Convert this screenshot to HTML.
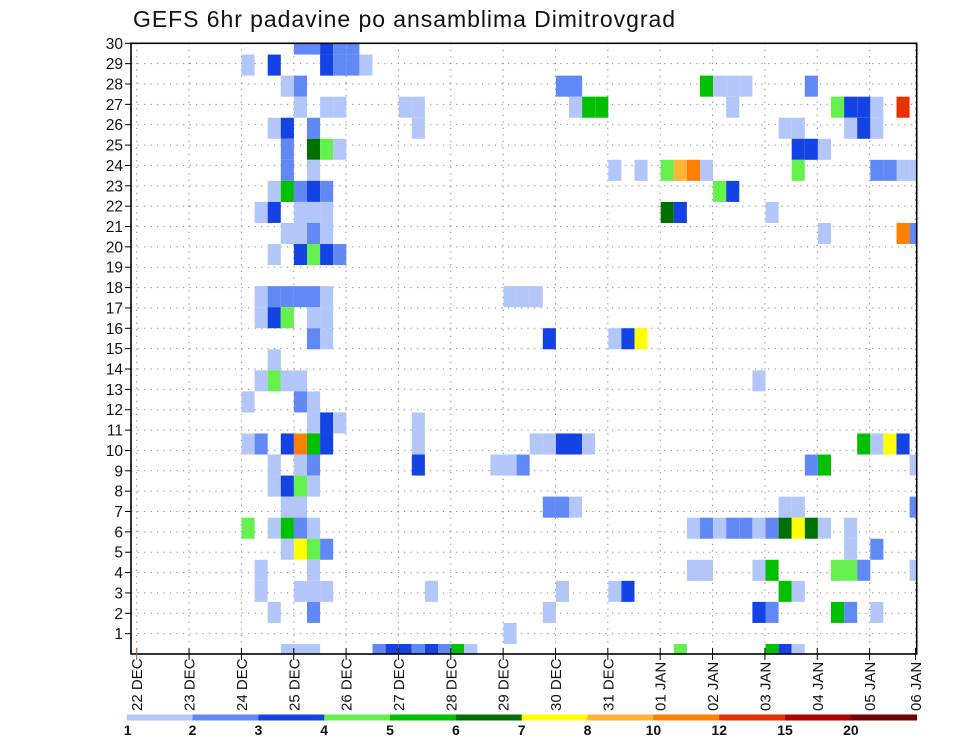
<!DOCTYPE html>
<html><head><meta charset="utf-8"><title>GEFS 6hr padavine po ansamblima Dimitrovgrad</title>
<style>
html,body{margin:0;padding:0;background:#fff;}
svg{display:block;font-family:"Liberation Sans",sans-serif;}
</style></head>
<body>
<svg id="chart" width="960" height="742" viewBox="0 0 960 742" xmlns="http://www.w3.org/2000/svg">
<defs><clipPath id="plotclip"><rect x="131" y="43.3" width="785.7" height="610.7"/></clipPath></defs>
<text x="133" y="27" font-size="23" fill="#111" textLength="542">GEFS 6hr padavine po ansamblima Dimitrovgrad</text>
<g id="grid"></g>
<g id="cells" clip-path="url(#plotclip)"></g>
<rect x="131" y="43.3" width="785.7" height="610.7" fill="none" stroke="#000" stroke-width="1.6"/>
<g id="yaxis"></g>
<g id="xaxis"></g>
<g id="legend"></g>
</svg>
<script>
// ---- data ----
const dayLabels = ["22 DEC","23 DEC","24 DEC","25 DEC","26 DEC","27 DEC","28 DEC","29 DEC","30 DEC","31 DEC","01 JAN","02 JAN","03 JAN","04 JAN","05 JAN","06 JAN"];
const yTicks = [1,2,3,4,5,6,7,8,9,10,11,12,13,14,15,16,17,18,19,20,21,22,23,24,25,26,27,28,29,30];
const levels = [1,2,3,4,5,6,7,8,10,12,15,20];
const levelColors = ["#b3c6fa","#6189f5","#1443e3","#66f04d","#00c000","#007000","#ffff00","#ffb233","#ff8000","#e63200","#b00000","#700000"];
const cellCol = [
12,13,14,15,16,
8,10,14,15,16,17,
11,12,32,33,43,44,45,46,51,
12,14,15,20,21,33,34,35,45,53,54,55,56,58,
10,11,13,21,49,50,54,55,56,
11,13,14,15,50,51,52,
11,13,36,38,40,41,42,43,50,56,57,58,59,
10,11,12,13,14,44,45,
9,10,12,13,14,40,41,48,
11,12,13,14,52,58,59,
10,12,13,14,15,
9,10,11,12,13,14,28,29,30,
9,10,11,13,14,
13,14,31,36,37,38,
10,
9,10,11,12,47,
8,12,13,
13,14,15,21,
8,9,11,12,13,14,21,30,31,32,33,34,55,56,57,58,
10,12,13,21,27,28,29,51,52,59,
10,11,12,13,
11,12,31,32,33,49,50,59,
8,10,11,12,13,42,43,44,45,46,47,48,49,50,51,52,54,
11,12,13,14,54,56,
9,13,42,43,47,48,53,54,55,59,
9,12,13,14,22,32,36,37,49,50,
10,13,31,47,48,53,54,56,
28,
11,12,13,18,19,20,21,22,23,24,25,41,48,49,50];
const cellRow = [
29,29,29,29,29,
28,28,28,28,28,28,
27,27,27,27,27,27,27,27,27,
26,26,26,26,26,26,26,26,26,26,26,26,26,26,
25,25,25,25,25,25,25,25,25,
24,24,24,24,24,24,24,
23,23,23,23,23,23,23,23,23,23,23,23,23,
22,22,22,22,22,22,22,
21,21,21,21,21,21,21,21,
20,20,20,20,20,20,20,
19,19,19,19,19,
17,17,17,17,17,17,17,17,17,
16,16,16,16,16,
15,15,15,15,15,15,
14,
13,13,13,13,13,
12,12,12,
11,11,11,11,
10,10,10,10,10,10,10,10,10,10,10,10,10,10,10,10,
9,9,9,9,9,9,9,9,9,9,
8,8,8,8,
7,7,7,7,7,7,7,7,
6,6,6,6,6,6,6,6,6,6,6,6,6,6,6,6,6,
5,5,5,5,5,5,
4,4,4,4,4,4,4,4,4,4,
3,3,3,3,3,3,3,3,3,3,
2,2,2,2,2,2,2,2,
1,
0,0,0,0,0,0,0,0,0,0,0,0,0,0,0];
const cellVal = [
2.5,2.5,3.5,2.5,2.5,
1.5,3.5,3.5,2.5,2.5,1.5,
1.5,2.5,2.5,2.5,5.5,1.5,1.5,1.5,2.5,
1.5,1.5,1.5,1.5,1.5,1.5,5.5,5.5,1.5,4.5,3.5,3.5,1.5,13,
1.5,3.5,2.5,1.5,1.5,1.5,1.5,3.5,1.5,
2.5,6.5,4.5,1.5,3.5,3.5,1.5,
2.5,1.5,1.5,1.5,4.5,9,11,1.5,4.5,2.5,2.5,1.5,1.5,
1.5,5.5,2.5,3.5,2.5,4.5,3.5,
1.5,3.5,1.5,1.5,1.5,6.5,3.5,1.5,
1.5,1.5,2.5,1.5,1.5,11,2.5,
1.5,3.5,4.5,3.5,2.5,
1.5,2.5,2.5,2.5,2.5,1.5,1.5,1.5,1.5,
1.5,3.5,4.5,1.5,1.5,
2.5,1.5,3.5,1.5,3.5,7.5,
1.5,
1.5,4.5,1.5,1.5,1.5,
1.5,2.5,1.5,
1.5,3.5,1.5,1.5,
1.5,2.5,3.5,11,5.5,3.5,1.5,1.5,1.5,3.5,3.5,1.5,5.5,1.5,7.5,3.5,
1.5,1.5,2.5,3.5,1.5,1.5,2.5,2.5,5.5,1.5,
1.5,3.5,4.5,1.5,
1.5,1.5,2.5,2.5,1.5,1.5,1.5,2.5,
4.5,1.5,5.5,2.5,1.5,1.5,2.5,1.5,2.5,2.5,1.5,2.5,6.5,7.5,6.5,1.5,1.5,
1.5,7.5,4.5,2.5,1.5,2.5,
1.5,1.5,1.5,1.5,1.5,5.5,4.5,4.5,2.5,1.5,
1.5,1.5,1.5,1.5,1.5,1.5,1.5,3.5,5.5,1.5,
1.5,2.5,1.5,3.5,2.5,5.5,2.5,1.5,
1.5,
1.5,1.5,1.5,2.5,3.5,3.5,2.5,3.5,2.5,5.5,1.5,4.5,5.5,3.5,1.5];

// ---- scales ----
const NS = "http://www.w3.org/2000/svg";
const X0 = 136.7, COLW = 13.1, DAYW = 52.35;
const PLOT_L = 131, PLOT_R = 916.7, PLOT_T = 43.3, PLOT_B = 654;
function xCol(c){ return X0 + COLW * c; }
function xDay(d){ return Math.min(X0 + DAYW * d, 915.5); }
function yCellCenter(r){ return 654.5 - 21.05 * r; }
const CELLH = 21.05;
function yTick(k){ return 654 - 20.357 * k; }
function colorFor(v){
  let idx = -1;
  for (let i = 0; i < levels.length; i++) if (v >= levels[i]) idx = i;
  return idx < 0 ? "none" : levelColors[idx];
}
function mk(tag, attrs, parent){
  const e = document.createElementNS(NS, tag);
  for (const k in attrs) e.setAttribute(k, attrs[k]);
  parent.appendChild(e);
  return e;
}

// grid
const grid = document.getElementById("grid");
yTicks.forEach(k => {
  const l = mk("line", {x1: PLOT_L, x2: PLOT_R, y1: yTick(k), y2: yTick(k), stroke: "#888", "stroke-width": 1, "stroke-dasharray": "1.2,5.3"}, grid);
  
  
});
dayLabels.forEach((d, i) => {
  const l = mk("line", {x1: xDay(i), x2: xDay(i), y1: PLOT_T, y2: PLOT_B, stroke: "#888", "stroke-width": 1, "stroke-dasharray": "1.2,5.3"}, grid);
  
  
});

// cells
const cells = document.getElementById("cells");
for (let i = 0; i < cellVal.length; i++) {
  const r = mk("rect", {x: xCol(cellCol[i]), y: yCellCenter(cellRow[i]) - CELLH / 2, width: COLW, height: CELLH, fill: colorFor(cellVal[i])}, cells);
  
  
}

// y axis
const ya = document.getElementById("yaxis");
yTicks.forEach(k => {
  const t = mk("line", {x1: 125, x2: 131, y1: yTick(k), y2: yTick(k), stroke: "#000", "stroke-width": 1}, ya);
  
  
  const tx = mk("text", {x: 123, y: yTick(k) + 5.5, "text-anchor": "end", "font-size": 15.5, fill: "#111"}, ya);
  tx.textContent = String(k);
  
  
});

// x axis
const xa = document.getElementById("xaxis");
dayLabels.forEach((d, i) => {
  const x = xDay(i);
  const t = mk("line", {x1: x, x2: x, y1: 648, y2: 660, stroke: i === 0 ? "#c44" : "#000", "stroke-width": 1}, xa);
  
  
  const tx = mk("text", {x: 0, y: 0, "font-size": 15, fill: "#111", transform: "translate(" + (x + 5.5) + ",711) rotate(-90)"}, xa);
  tx.textContent = d;
  
  
});

// legend
const lg = document.getElementById("legend");
const LX0 = 126.7, LW = (916.7 - 126.7) / levels.length;
levels.forEach((lv, i) => {
  const r = mk("rect", {x: LX0 + LW * i, y: 714.5, width: LW + 0.3, height: 6, fill: levelColors[i]}, lg);
  
  
  const t = mk("text", {x: LX0 + LW * i + (i === 0 ? 1 : 0), y: 735, "text-anchor": "middle", "font-size": 14, "font-weight": "bold", fill: "#111"}, lg);
  t.textContent = String(lv);
  
  
});
</script>
</body></html>
